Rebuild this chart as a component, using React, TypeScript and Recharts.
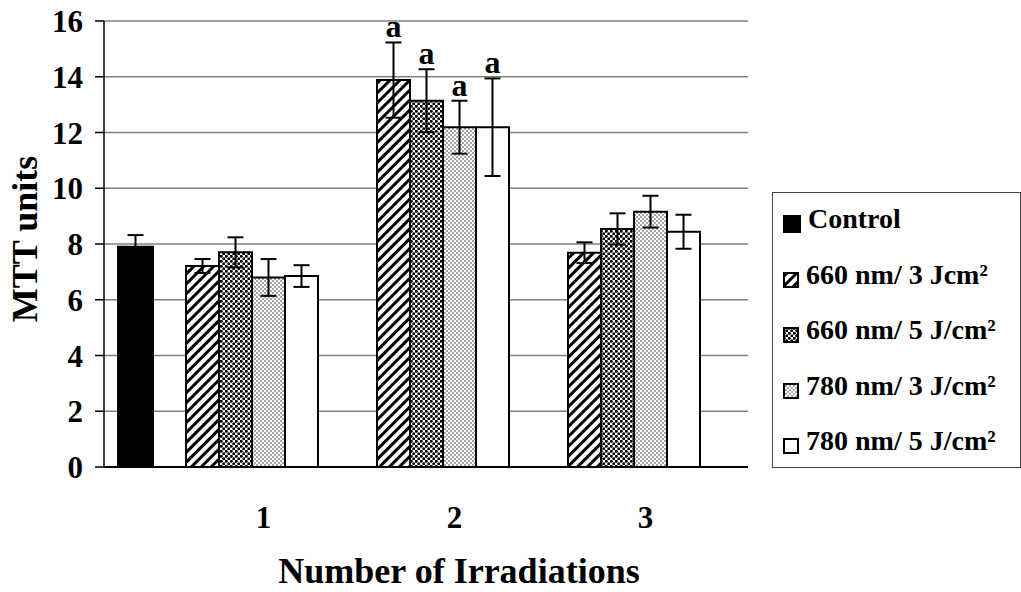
import React from "react";
import {
  BarChart,
  Bar,
  XAxis,
  YAxis,
  CartesianGrid,
  ErrorBar,
  LabelList,
  Label,
} from "recharts";

const FONT = '"Liberation Serif", "Times New Roman", serif';

// irradiation sessions on the x axis
const runs = ["1", "2", "3"];

// untreated control, measured once
const controlMean = 7.9;
const controlSd = 0.42;

// laser groups, one value per irradiation session
const mean660at3 = [7.21, 13.88, 7.69];
const sd660at3 = [0.25, 1.35, 0.37];
const mean660at5 = [7.7, 13.14, 8.54];
const sd660at5 = [0.54, 1.13, 0.56];
const mean780at3 = [6.8, 12.19, 9.16];
const sd780at3 = [0.66, 0.95, 0.57];
const mean780at5 = [6.85, 12.19, 8.44];
const sd780at5 = [0.39, 1.75, 0.61];

// significance letter above every laser bar of a session
const marks = ["", "a", ""];

const yTicks = [0, 2, 4, 6, 8, 10, 12, 14, 16];

const rows = runs.map((run, i) => ({
  run,
  control: i === 0 ? controlMean : undefined,
  controlSd: i === 0 ? controlSd : undefined,
  l660j3: mean660at3[i],
  l660j3Sd: sd660at3[i],
  l660j5: mean660at5[i],
  l660j5Sd: sd660at5[i],
  l780j3: mean780at3[i],
  l780j3Sd: sd780at3[i],
  l780j5: mean780at5[i],
  l780j5Sd: sd780at5[i],
  mark: marks[i],
}));

const laserSeries = [
  { key: "l660j3", name: "660 nm/ 3 Jcm²", fill: "url(#hatch)" },
  { key: "l660j5", name: "660 nm/ 5 J/cm²", fill: "url(#denseDots)" },
  { key: "l780j3", name: "780 nm/ 3 J/cm²", fill: "url(#fineDots)" },
  { key: "l780j5", name: "780 nm/ 5 J/cm²", fill: "#ffffff" },
];

const legendItems = [
  { name: "Control", fill: "#000000", size: 18 },
  ...laserSeries.map((s) => ({ name: s.name, fill: s.fill, size: 16 })),
];

const textStyle = {
  fontFamily: FONT,
  fontWeight: "bold" as const,
  fill: "#000",
};

// letter sits just above the error bar cap
const markLabel = (valueKey: string, sdKey: string) => (props: any) => {
  const vb = props.viewBox || props;
  const row: any = rows[props.index];
  if (!row || !row.mark) return null;
  const pxPerUnit = vb.height / row[valueKey];
  const capY = vb.y - row[sdKey] * pxPerUnit;
  return (
    <text
      x={vb.x + vb.width / 2}
      y={capY - 5}
      textAnchor="middle"
      fontSize={32}
      {...textStyle}
    >
      {row.mark}
    </text>
  );
};

const RunTick = ({ x, y, payload }: any) => (
  <text x={x + 12} y={y + 61} textAnchor="middle" fontSize={31} {...textStyle}>
    {payload.value}
  </text>
);

const Patterns = () => (
  <defs>
    <pattern
      id="hatch"
      width="7"
      height="7"
      patternUnits="userSpaceOnUse"
      patternTransform="rotate(45)"
    >
      <rect width="7" height="7" fill="#fff" />
      <line x1="3.5" y1="0" x2="3.5" y2="7" stroke="#000" strokeWidth="3" />
    </pattern>
    <pattern id="denseDots" width="5" height="5" patternUnits="userSpaceOnUse">
      <rect width="5" height="5" fill="#fff" />
      <circle cx="1.25" cy="1.25" r="1.5" fill="#000" />
      <circle cx="3.75" cy="3.75" r="1.5" fill="#000" />
    </pattern>
    <pattern id="fineDots" width="4" height="4" patternUnits="userSpaceOnUse">
      <rect width="4" height="4" fill="#fff" />
      <circle cx="1" cy="1" r="0.75" fill="#222" />
      <circle cx="3" cy="3" r="0.75" fill="#222" />
    </pattern>
  </defs>
);

const MttChart = () => {
  return (
    <div
      style={{
        position: "absolute",
        left: 0,
        top: 0,
        width: 1021,
        height: 592,
        overflow: "hidden",
        background: "#fff",
      }}
    >
      <BarChart
        width={1021}
        height={592}
        data={rows}
        margin={{ top: 21, right: 273, bottom: 0, left: 0 }}
        barGap={0}
      >
        <Patterns />
        <CartesianGrid vertical={false} stroke="#808080" strokeWidth={1.5} />
        <XAxis
          dataKey="run"
          height={125}
          padding={{ left: 52, right: 19 }}
          axisLine={{ stroke: "#000", strokeWidth: 2 }}
          tickLine={false}
          tickSize={0}
          tickMargin={0}
          tick={<RunTick />}
        >
          <Label
            content={() => (
              <text x={459} y={583} textAnchor="middle" fontSize={36} {...textStyle}>
                Number of Irradiations
              </text>
            )}
          />
        </XAxis>
        <XAxis
          xAxisId="ctrl"
          dataKey="run"
          hide
          padding={{ left: 0, right: 455 }}
        />
        <YAxis
          width={104}
          domain={[0, 16]}
          ticks={yTicks}
          interval={0}
          axisLine={{ stroke: "#000", strokeWidth: 1.5 }}
          tickLine={{ stroke: "#000", strokeWidth: 1.5 }}
          tickSize={9}
          tickMargin={12}
          tick={{ fontSize: 31, ...textStyle }}
        >
          <Label
            content={() => (
              <text
                transform="translate(37, 239) rotate(-90)"
                textAnchor="middle"
                fontSize={36}
                {...textStyle}
              >
                MTT units
              </text>
            )}
          />
        </YAxis>
        <YAxis
          yAxisId="frame"
          orientation="right"
          width={0}
          domain={[0, 16]}
          tick={false}
          tickLine={false}
          axisLine={{ stroke: "#808080", strokeWidth: 1.5 }}
        />
        <Bar
          xAxisId="ctrl"
          dataKey="control"
          name="Control"
          fill="#000"
          stroke="#000"
          strokeWidth={2}
          barSize={35}
          isAnimationActive={false}
        >
          <ErrorBar dataKey="controlSd" width={8} stroke="#000" strokeWidth={2} />
        </Bar>
        {laserSeries.map((s) => (
          <Bar
            key={s.key}
            dataKey={s.key}
            name={s.name}
            fill={s.fill}
            stroke="#000"
            strokeWidth={2}
            barSize={33}
            isAnimationActive={false}
          >
            <ErrorBar
              dataKey={`${s.key}Sd`}
              width={8}
              stroke="#000"
              strokeWidth={2}
            />
            <LabelList dataKey="mark" content={markLabel(s.key, `${s.key}Sd`)} />
          </Bar>
        ))}
      </BarChart>

      <div
        style={{
          position: "absolute",
          left: 772,
          top: 192,
          width: 249,
          height: 276,
          border: "1.5px solid #444",
          boxSizing: "border-box",
          fontFamily: FONT,
          fontWeight: "bold",
          fontSize: 28,
          color: "#000",
        }}
      >
        {legendItems.map((item, i) => (
          <div
            key={item.name}
            style={{
              position: "absolute",
              left: 10,
              top: 6 + i * 55.5,
              height: 40,
              display: "flex",
              alignItems: "center",
              whiteSpace: "nowrap",
            }}
          >
            <svg
              width={item.size}
              height={item.size}
              style={{ marginTop: 10, marginRight: 7, flex: "none" }}
            >
              <rect
                x={1}
                y={1}
                width={item.size - 2}
                height={item.size - 2}
                fill={item.fill}
                stroke="#000"
                strokeWidth={2}
              />
            </svg>
            <span>{item.name}</span>
          </div>
        ))}
      </div>
    </div>
  );
};

export default MttChart;
